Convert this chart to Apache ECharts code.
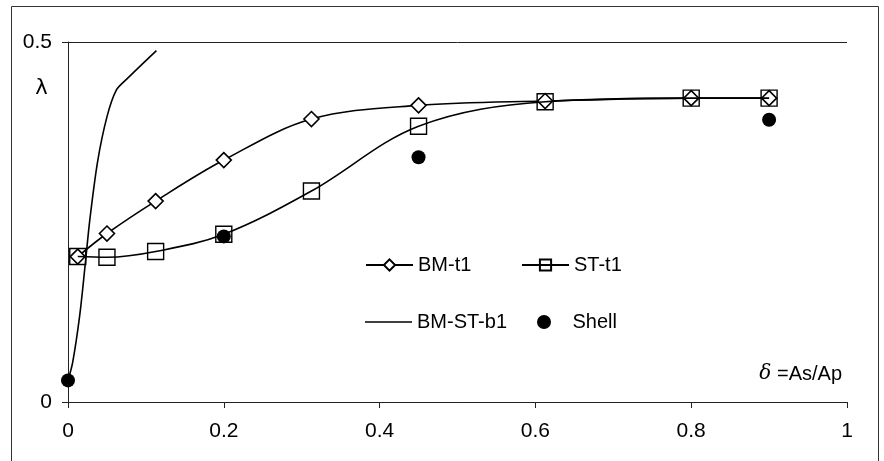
<!DOCTYPE html>
<html>
<head>
<meta charset="utf-8">
<script src="https://cdn.jsdelivr.net/npm/echarts@6/dist/echarts.min.js"></script>
<style>
  html, body { margin: 0; padding: 0; background: #fff; }
  #chart { width: 884px; height: 461px; }
</style>
</head>
<body>
<div id="chart"></div>
<script>
// data
const deltaT1 = [0.0125, 0.05, 0.1125, 0.2, 0.3125, 0.45, 0.6125, 0.8, 0.9]
const bmT1 = [0.202, 0.234, 0.279, 0.336, 0.393, 0.412, 0.418, 0.422, 0.422]
const stT1 = [0.202, 0.201, 0.209, 0.233, 0.293, 0.383, 0.417, 0.422, 0.422]

const deltaB1 = [0, 0.006, 0.015, 0.022, 0.028, 0.038, 0.05, 0.062, 0.075, 0.1135]
const bmStB1 = [0.03, 0.055, 0.12, 0.19, 0.253, 0.334, 0.396, 0.433, 0.448, 0.488]

const deltaShell = [0, 0.2, 0.45, 0.9]
const shell = [0.03, 0.23, 0.34, 0.392]

const xTicks = [0, 0.2, 0.4, 0.6, 0.8, 1]
const yTicks = [0, 0.5]

const pairs = (xs, ys) => xs.map((x, i) => [x, ys[i]])

const font = "'Liberation Sans', Arial, sans-serif"
const ink = '#000'

const chart = echarts.init(document.getElementById('chart'))

const legendBase = {
  orient: 'horizontal',
  padding: 0,
  itemWidth: 47,
  itemHeight: 14,
  itemGap: 5,
  selectedMode: false,
  textStyle: { color: ink, fontSize: 20, fontFamily: font }
}

const option = {
  animation: false,
  backgroundColor: '#fff',
  grid: { left: 68, top: 42, width: 779, height: 360, containLabel: false },
  legend: [
    { ...legendBase, data: ['BM-t1'], left: 365, top: 255 },
    { ...legendBase, data: ['ST-t1'], left: 521, top: 255 },
    // plain line, no marker
    { ...legendBase, itemHeight: 1.5, data: [{ name: 'BM-ST-b1', icon: 'rect' }], left: 365, top: 312 },
    { ...legendBase, data: ['Shell'], left: 537, top: 312 }
  ],
  xAxis: {
    type: 'value',
    min: xTicks[0],
    max: xTicks[xTicks.length - 1],
    interval: 0.2,
    axisLine: { show: true, onZero: false, lineStyle: { color: '#222', width: 1 } },
    axisTick: { show: true, length: 6, lineStyle: { color: '#222' } },
    splitLine: { show: false },
    axisLabel: {
      margin: 19,
      color: ink,
      fontSize: 21,
      fontFamily: font,
      formatter: v => (xTicks.includes(Math.round(v * 10) / 10) ? String(Math.round(v * 10) / 10) : '')
    }
  },
  yAxis: {
    type: 'value',
    min: yTicks[0],
    max: yTicks[1],
    interval: 0.5,
    axisLine: { show: true, onZero: false, lineStyle: { color: '#222', width: 1 } },
    axisTick: { show: true, length: 6, lineStyle: { color: '#222' } },
    splitLine: { show: true, lineStyle: { color: '#222', width: 1 } },
    axisLabel: { margin: 16, color: ink, fontSize: 21, fontFamily: font }
  },
  graphic: [
    {
      type: 'rect',
      silent: true,
      shape: { x: 11.5, y: 6.5, width: 867, height: 520 },
      style: { fill: 'none', stroke: '#333', lineWidth: 1 }
    },
    {
      type: 'text',
      x: 41.5, y: 89,
      style: { text: 'λ', fontSize: 21, fontFamily: 'DejaVu Sans', fill: ink, align: 'center', verticalAlign: 'middle' }
    },
    {
      type: 'text',
      x: 842, y: 374,
      style: {
        text: '{d|δ} =As/Ap',
        align: 'right',
        verticalAlign: 'middle',
        fontSize: 20,
        fontFamily: font,
        fill: ink,
        rich: {
          d: { fontSize: 20, fontStyle: 'italic', fontFamily: "'DejaVu Serif', serif", fill: ink }
        }
      }
    }
  ],
  series: [
    {
      name: 'BM-t1',
      type: 'line',
      smooth: 0.35,
      data: pairs(deltaT1, bmT1),
      symbol: 'diamond',
      symbolSize: 15,
      showAllSymbol: true,
      lineStyle: { color: ink, width: 1.6 },
      itemStyle: { color: '#fff', borderColor: ink, borderWidth: 1.6 },
      z: 3
    },
    {
      name: 'ST-t1',
      type: 'line',
      smooth: 0.35,
      data: pairs(deltaT1, stT1),
      symbol: 'rect',
      symbolSize: 16,
      showAllSymbol: true,
      lineStyle: { color: ink, width: 1.6 },
      itemStyle: { color: 'rgba(255,255,255,0)', borderColor: ink, borderWidth: 1.4 },
      z: 4
    },
    {
      name: 'BM-ST-b1',
      type: 'line',
      smooth: 0.3,
      data: pairs(deltaB1, bmStB1),
      symbol: 'none',
      lineStyle: { color: ink, width: 1.6 },
      itemStyle: { color: ink },
      z: 2
    },
    {
      name: 'Shell',
      type: 'scatter',
      data: pairs(deltaShell, shell),
      symbol: 'circle',
      symbolSize: 14,
      itemStyle: { color: ink, opacity: 1 },
      z: 5
    }
  ]
}

chart.setOption(option)
</script>
</body>
</html>
